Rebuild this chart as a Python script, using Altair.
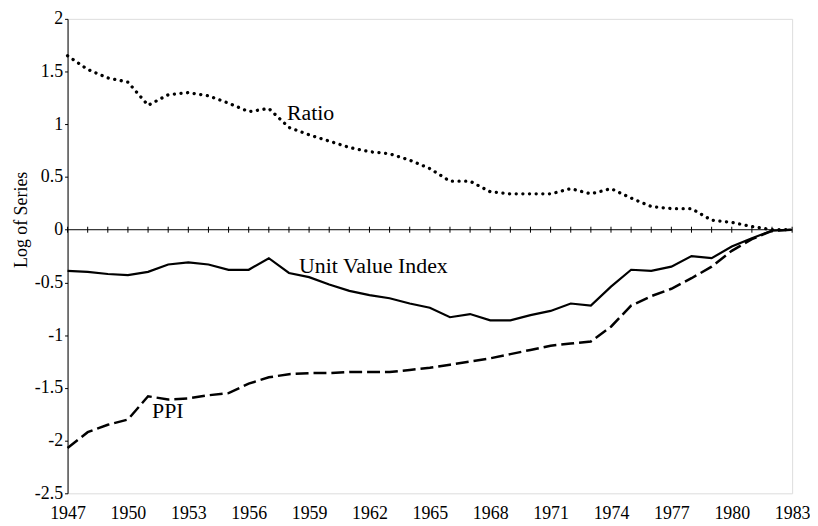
import altair as alt
import pandas as pd

years = list(range(1947, 1984))

ratio = [1.65, 1.52, 1.44, 1.40, 1.18, 1.28, 1.30, 1.27, 1.20, 1.12,
         1.15, 0.97, 0.90, 0.84, 0.78, 0.74, 0.72, 0.66, 0.58, 0.46,
         0.46, 0.36, 0.34, 0.34, 0.34, 0.39, 0.34, 0.39, 0.30, 0.22,
         0.20, 0.20, 0.09, 0.07, 0.03, 0.00, 0.00]

unit_value = [-0.39, -0.40, -0.42, -0.43, -0.40, -0.33, -0.31, -0.33, -0.38, -0.38,
              -0.27, -0.41, -0.45, -0.52, -0.58, -0.62, -0.65, -0.70, -0.74, -0.83,
              -0.80, -0.86, -0.86, -0.81, -0.77, -0.70, -0.72, -0.54, -0.38, -0.39,
              -0.35, -0.25, -0.27, -0.16, -0.08, -0.01, 0.00]

ppi = [-2.07, -1.92, -1.85, -1.80, -1.58, -1.61, -1.60, -1.57, -1.55, -1.46,
       -1.40, -1.37, -1.36, -1.36, -1.35, -1.35, -1.35, -1.33, -1.31, -1.28,
       -1.25, -1.22, -1.18, -1.14, -1.10, -1.08, -1.06, -0.92, -0.72, -0.63,
       -0.56, -0.46, -0.35, -0.20, -0.09, -0.01, 0.00]

label_text = ["Ratio", "Unit Value Index", "PPI"]
label_year = [1957.9, 1958.5, 1951.2]
label_value = [1.04, -0.41, -1.79]

y_ticks = [2, 1.5, 1, 0.5, 0, -0.5, -1, -1.5, -2, -2.5]
x_ticks = list(range(1947, 1984, 3))

FONT = "Liberation Serif"

df = pd.DataFrame({"year": years, "ratio": ratio, "uvi": unit_value, "ppi": ppi})
lab = pd.DataFrame({"year": label_year, "value": label_value, "text": label_text})
zero_df = pd.DataFrame({"start": [years[0]], "end": [years[-1]], "level": [0]})

x_scale = alt.Scale(domain=[1947, 1983], nice=False, zero=False)
y_scale = alt.Scale(domain=[-2.5, 2], nice=False, zero=False)

x_axis = alt.Axis(values=x_ticks, format="d", domain=False, ticks=False, grid=False,
                  labelFlush=False, labelPadding=11, labelFontSize=18, labelFont=FONT,
                  labelColor="black", title=None)
y_axis = alt.Axis(values=y_ticks, labelExpr="'' + datum.value", domain=True,
                  domainColor="black", domainWidth=1, tickColor="black", tickSize=3,
                  grid=False, labelFlush=False, labelPadding=2, labelFontSize=18,
                  labelFont=FONT, labelColor="black", title="Log of Series",
                  titleFont=FONT, titleFontSize=18, titleFontWeight="normal",
                  titleColor="black", titleX=-41, titleY=202, titleBaseline="alphabetic")

X = alt.X("year:Q", scale=x_scale, axis=x_axis)


def Y(field):
    return alt.Y(field, type="quantitative", scale=y_scale, axis=y_axis)


base = alt.Chart(df)

ratio_line = base.mark_line(color="black", strokeWidth=3.3, strokeDash=[0.1, 6.6],
                            strokeCap="round").encode(x=X, y=Y("ratio"))
uvi_line = base.mark_line(color="black", strokeWidth=2.2).encode(x=X, y=Y("uvi"))
ppi_line = base.mark_line(color="black", strokeWidth=2.5,
                          strokeDash=[13, 5]).encode(x=X, y=Y("ppi"))

zero_line = alt.Chart(zero_df).mark_rule(color="black", strokeWidth=1).encode(
    x=alt.X("start:Q", scale=x_scale, axis=x_axis), x2="end:Q", y=Y("level"))

year_ticks = base.mark_point(shape="M0,-1L0,1", size=36, stroke="black", strokeWidth=1,
                             filled=False, opacity=1).encode(
    x=X, y=alt.Y("zero:Q", scale=y_scale, axis=y_axis)).transform_calculate(zero="0")

labels = alt.Chart(lab).mark_text(align="left", baseline="alphabetic", fontSize=22,
                                  font=FONT, color="black").encode(
    x=alt.X("year:Q", scale=x_scale, axis=x_axis), y=Y("value"), text="text:N")

chart = alt.layer(zero_line, year_ticks, ratio_line, uvi_line, ppi_line, labels).properties(
    width=730, height=478,
    autosize=alt.AutoSizeParams(type="none"),
    padding={"left": 60, "top": 9, "right": 18, "bottom": 30},
    background="white",
).configure_view(stroke=None).configure(font=FONT)

chart.save("out.html", embed_options={"renderer": "svg", "actions": False})
